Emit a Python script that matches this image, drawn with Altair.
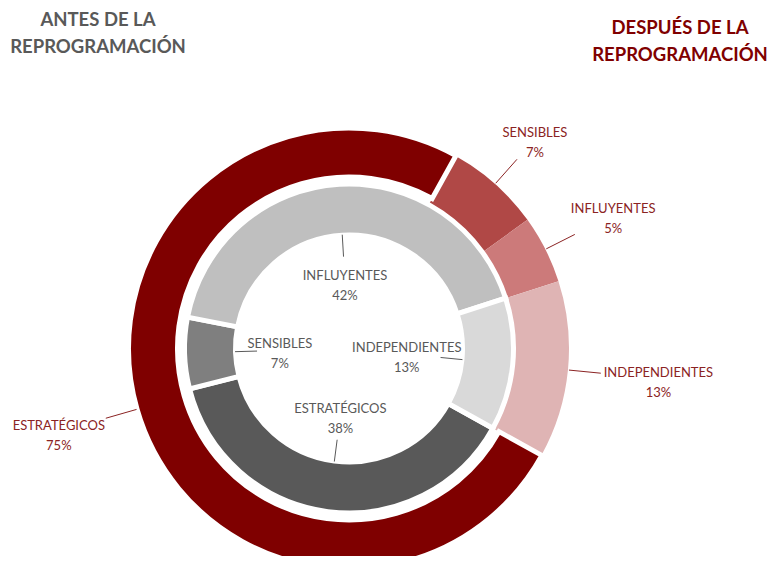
import math
import altair as alt
import pandas as pd

# ---- data -------------------------------------------------------------
categories = ["ESTRATÉGICOS", "SENSIBLES", "INFLUYENTES", "INDEPENDIENTES"]
antes_pct = [38, 7, 42, 13]      # inner ring: before reprogramming
despues_pct = [75, 7, 5, 13]     # outer ring: after reprogramming

inner_colors = ["#595959", "#7F7F7F", "#BFBFBF", "#D9D9D9"]
outer_colors = ["#7F0000", "#B04846", "#CC7A7A", "#DFB4B4"]

rows = []
for i, c in enumerate(categories):
    rows.append({"ring": "antes", "cat": c, "value": antes_pct[i], "order": i, "color": inner_colors[i]})
for i, c in enumerate(categories):
    rows.append({"ring": "despues", "cat": c, "value": despues_pct[i], "order": i, "color": outer_colors[i]})
df = pd.DataFrame(rows)

# ---- layout -----------------------------------------------------------
W, H = 759, 548
CX, CY = 341, 340.5
START = 119 * math.pi / 180
FONT = "Lato"
FS = 13
LH = 20
RED_TXT = "#8B2323"
GRAY_TXT = "#595959"

base = alt.Chart(df).transform_window(
    cum="sum(value)", groupby=["ring"], sort=[alt.SortField("order")], frame=[None, 0]
).transform_calculate(
    t0=f"{START} + 2*PI*(datum.cum - datum.value)/100",
    t1=f"{START} + 2*PI*datum.cum/100",
).transform_calculate(
    mid="(datum.t0 + datum.t1)/2",
    lab="datum.cat + '\\n' + datum.value + '%'",
).transform_calculate(
    s="sin(datum.mid)",
    c="cos(datum.mid)",
)

arc_enc = dict(
    theta=alt.Theta("t0:Q", scale=None, stack=None),
    theta2=alt.Theta2("t1:Q"),
    color=alt.Color("color:N", scale=None, legend=None),
    x=alt.value(CX),
    y=alt.value(CY),
)

outer = base.transform_filter("datum.ring == 'despues'")
inner = base.transform_filter("datum.ring == 'antes'")

outer_light = outer.transform_filter("datum.order > 0").mark_arc(
    radius=220, radius2=165
).encode(**arc_enc)

outer_main = outer.transform_filter("datum.order == 0").mark_arc(
    radius=220.5, radius2=171.5, stroke="white", strokeWidth=5
).encode(**arc_enc)

inner_arcs = inner.mark_arc(
    radius=164.5, radius2=113.5, stroke="white", strokeWidth=5
).encode(**arc_enc)

# leader lines + labels; the label box is pushed off the leader end
outer_geo = outer.transform_calculate(
    hw="length(datum.cat) * 3.9",
    lx1=f"{CX} + 221*datum.s", ly1=f"{CY} - 221*datum.c",
    lx2=f"{CX} + 253*datum.s", ly2=f"{CY} - 253*datum.c",
).transform_calculate(
    d="min(datum.hw / max(abs(datum.s), 0.000001), 18 / max(abs(datum.c), 0.000001)) + 3",
).transform_calculate(
    tx=f"clamp(datum.lx2 + datum.s*datum.d, datum.hw + 4, {W} - datum.hw - 4)",
    ty=f"datum.ly2 - datum.c*datum.d - {LH/2} + 4",
)
inner_geo = inner.transform_calculate(
    hw="length(datum.cat) * 2.2",
    lx1=f"{CX} + 114*datum.s", ly1=f"{CY} - 114*datum.c",
    lx2=f"{CX} + 92*datum.s", ly2=f"{CY} - 92*datum.c",
).transform_calculate(
    d="min(datum.hw / max(abs(datum.s), 0.000001), 22 / max(abs(datum.c), 0.000001)) + 3",
).transform_calculate(
    tx="datum.lx2 - datum.s*datum.d",
    ty=f"datum.ly2 + datum.c*datum.d - {LH/2} + 4",
)

def leaders(src, color):
    return src.mark_rule(color=color, strokeWidth=1).encode(
        x=alt.X("lx1:Q", scale=None, axis=None),
        y=alt.Y("ly1:Q", scale=None, axis=None),
        x2="lx2:Q",
        y2="ly2:Q",
    )

def labels(src, color):
    return src.mark_text(
        font=FONT, fontSize=FS, color=color, lineBreak="\n", lineHeight=LH,
        align="center", baseline="middle",
    ).encode(
        x=alt.X("tx:Q", scale=None, axis=None),
        y=alt.Y("ty:Q", scale=None, axis=None),
        text="lab:N",
    )

title_left = alt.Chart(pd.DataFrame({"k": [0]})).mark_text(
    font=FONT, fontSize=18.5, fontWeight="bold", color=GRAY_TXT,
    align="center", baseline="middle", lineHeight=27,
).encode(x=alt.value(90), y=alt.value(12), text=alt.value(["ANTES DE LA", "REPROGRAMACIÓN"]))

title_right = alt.Chart(pd.DataFrame({"k": [0]})).mark_text(
    font=FONT, fontSize=18.5, fontWeight="bold", color="#800000",
    align="center", baseline="middle", lineHeight=27,
).encode(x=alt.value(672), y=alt.value(20), text=alt.value(["DESPUÉS DE LA", "REPROGRAMACIÓN"]))

chart = alt.layer(
    outer_light, outer_main, inner_arcs,
    leaders(outer_geo, RED_TXT), leaders(inner_geo, GRAY_TXT),
    labels(outer_geo, RED_TXT), labels(inner_geo, GRAY_TXT),
    title_left, title_right,
).properties(
    width=W, height=H, padding=0, autosize=alt.AutoSizeParams(type="none"),
).configure_view(stroke=None)

chart.save("out.html", embed_options={"renderer": "svg", "actions": False})
